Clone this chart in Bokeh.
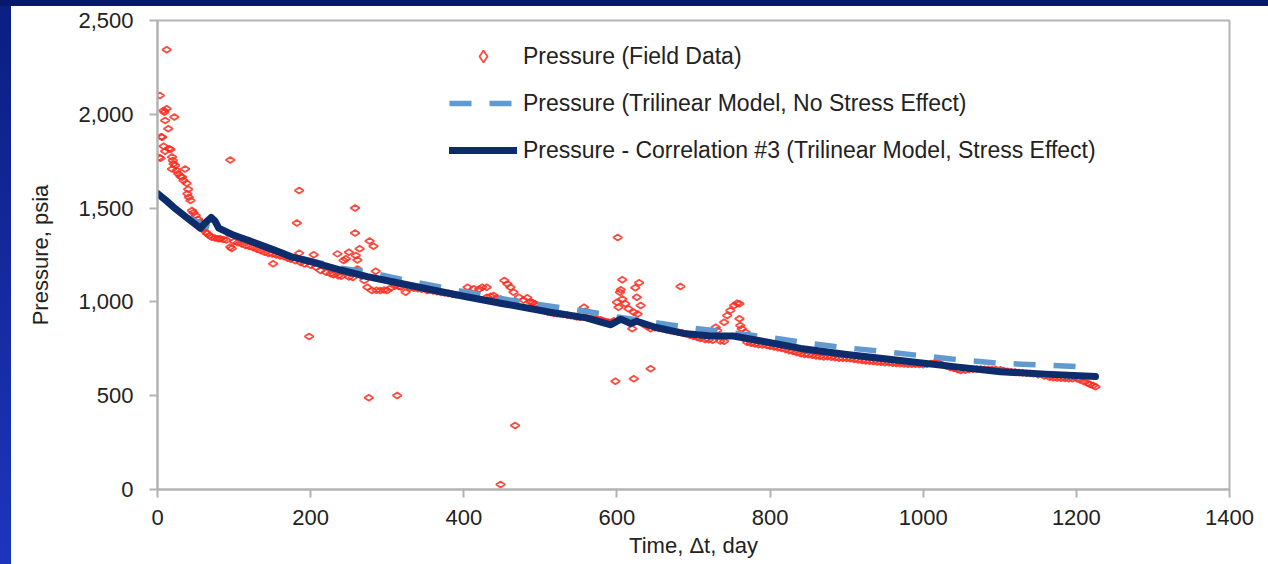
import math
from bokeh.plotting import figure
from bokeh.models import Range1d, FixedTicker, NumeralTickFormatter, Legend, LegendItem, Spacer
from bokeh.layouts import column, row
from bokeh.embed import file_html
from bokeh.resources import INLINE

# ---- data ----
field_day = [2, 3, 4, 5, 6, 8, 8, 9, 10, 10, 12, 12, 14, 15, 17, 19, 19, 20, 22, 21, 23, 25, 27, 30, 32, 34, 36, 38, 39, 40,
             41, 43, 45, 47, 50, 53, 56, 58, 60, 63, 65, 68, 71, 75, 79, 82, 86, 90, 95, 95, 97, 100, 105, 110, 115, 119, 120,
             125, 130, 135, 140, 145, 151, 150, 155, 160, 165, 170, 174, 180, 182, 185, 185, 187, 192, 198, 200, 204, 207,
             213, 220, 226, 230, 235, 236, 240, 243, 246, 250, 250, 255, 258, 258, 259, 261, 261, 264, 266, 270, 274, 276,
             277, 280, 282, 285, 286, 291, 296, 300, 305, 310, 313, 318, 324, 330, 340, 352, 360, 370, 380, 390, 398, 405,
             413, 420, 424, 430, 430, 439, 443, 448, 448, 453, 457, 461, 465, 467, 472, 478, 483, 490, 496, 503, 510, 518,
             526, 535, 545, 552, 557, 559, 565, 572, 579, 585, 590, 596, 598, 600, 601, 602, 604, 605, 607, 607, 611, 615,
             620, 622, 622, 624, 626, 627, 629, 631, 635, 644, 644, 650, 660, 670, 683, 680, 690, 700, 709, 715, 729, 731,
             740, 740, 744, 748, 753, 757, 760, 760, 761, 763, 768, 775, 785, 796, 805, 815, 825, 840, 850, 860, 870, 880,
             890, 905, 915, 925, 940, 955, 970, 985, 1000, 1010, 1018, 1025, 1035, 1049, 1060, 1075, 1090, 1101, 1115, 1130,
             1144, 1158, 1170, 1185, 1201, 1210, 1218, 1225,
             315, 335, 345, 355, 365, 375, 385, 395, 435, 487, 493, 500, 506, 514, 522, 530, 540, 548, 562, 568, 575, 582,
             588, 593, 640, 655, 665, 675, 685, 695, 705, 720, 725, 735, 770, 780, 790, 800, 810, 820, 830, 835, 845, 855,
             865, 875, 885, 895, 900, 910, 920, 930, 935, 945, 950, 960, 965, 975, 980, 990, 995, 1005, 1015, 1020, 1030,
             1040, 1045, 1055, 1065, 1070, 1080, 1085, 1095, 1105, 1110, 1120, 1125, 1135, 1140, 1150, 1165, 1175, 1180,
             1190, 1195, 1205, 1215, 1222]
field_psia = [1770, 2100, 1766, 1880, 1878, 2020, 1830, 2011, 1967, 1803, 2344, 2029, 1923, 1816, 1812, 1772, 1709, 1754, 1985,
              1736, 1727, 1700, 1683, 1670, 1665, 1647, 1709, 1633, 1576, 1600, 1558, 1540, 1487, 1475, 1461, 1440, 1425,
              1405, 1390, 1372, 1363, 1352, 1345, 1340, 1337, 1336, 1333, 1330, 1292, 1757, 1285, 1322, 1315, 1308, 1300,
              1327, 1295, 1288, 1280, 1272, 1265, 1258, 1203, 1255, 1250, 1245, 1240, 1233, 1228, 1220, 1421, 1594, 1260,
              1210, 1202, 815, 1195, 1251, 1185, 1168, 1158, 1150, 1145, 1256, 1140, 1137, 1221, 1230, 1265, 1133, 1130,
              1500, 1367, 1247, 1224, 1176, 1283, 1140, 1114, 1078, 489, 1324, 1061, 1297, 1164, 1062, 1061, 1063, 1061,
              1075, 1085, 501, 1080, 1052, 1076, 1070, 1061, 1058, 1050, 1045, 1038, 1040, 1078, 1070, 1068, 1078, 1078,
              1025, 1034, 1020, 27, 1016, 1114, 1096, 1078, 1052, 341, 1025, 1010, 1022, 995, 981, 960, 945, 938, 936, 930,
              922, 918, 972, 950, 912, 910, 905, 896, 890, 900, 577, 998, 1343, 972, 1052, 1065, 1118, 1016, 990, 963, 857,
              945, 590, 1075, 1025, 936, 1102, 981, 880, 857, 643, 862, 855, 846, 1082, 838, 830, 815, 805, 800, 865, 848,
              892, 790, 927, 954, 981, 993, 990, 910, 874, 857, 838, 780, 772, 768, 760, 752, 740, 723, 718, 712, 706, 705,
              700, 697, 690, 685, 680, 675, 670, 668, 665, 672, 679, 665, 650, 634, 640, 642, 640, 638, 628, 622, 617, 605,
              596, 592, 590, 575, 560, 548,
              1082, 1073, 1068, 1062, 1054, 1048, 1041, 1036, 1030, 1000, 990, 970, 952, 942, 937, 933, 926, 920, 914, 911,
              908, 900, 893, 892, 868, 858, 850, 842, 835, 822, 810, 798, 795, 792, 785, 776, 770, 764, 756, 746, 735, 729,
              720, 715, 709, 707, 702, 699, 698, 693, 687, 683, 682, 678, 676, 673, 671, 669, 668, 667, 666, 668, 676, 675,
              658, 645, 638, 636, 641, 642, 641, 641, 639, 635, 631, 626, 624, 620, 618, 612, 599, 594, 593, 591, 590, 584,
              566, 555]

nostress_day = [0, 30, 60, 90, 130, 180, 240, 280, 330, 400, 460, 500, 560, 600, 650, 700, 750, 800, 850, 900, 950, 1000,
                1050, 1100, 1150, 1200]
nostress_psia = [1575, 1470, 1410, 1365, 1310, 1240, 1180, 1155, 1110, 1055, 1010, 985, 950, 920, 890, 860, 835, 810, 780,
                 755, 735, 712, 690, 673, 665, 655]

stress_day = [0, 10, 21, 43, 56, 62, 70, 75, 80, 100, 121, 150, 175, 200, 239, 274, 310, 361, 400, 448, 513, 560, 585, 592,
              605, 618, 626, 650, 687, 720, 752, 790, 840, 900, 970, 1040, 1101, 1160, 1225]
stress_psia = [1578, 1545, 1505, 1434, 1392, 1420, 1450, 1432, 1393, 1355, 1325, 1280, 1240, 1215, 1170, 1135, 1105, 1062,
               1030, 993, 945, 915, 885, 878, 908, 885, 897, 865, 832, 820, 818, 790, 752, 720, 688, 655, 628, 615, 602]

x_ticks = [0, 200, 400, 600, 800, 1000, 1200, 1400]
y_ticks = [0, 500, 1000, 1500, 2000, 2500]

FONT = "Liberation Sans"
AXIS_GRAY = "#b3b3b3"
TEXT = "#222222"

p = figure(width=1257, height=558, output_backend="svg", toolbar_location=None,
           x_range=Range1d(0, 1400), y_range=Range1d(0, 2500),
           min_border_left=146, min_border_right=39, min_border_top=14, min_border_bottom=75)

p.background_fill_color = "white"
p.border_fill_color = "white"
p.outline_line_color = AXIS_GRAY
p.outline_line_width = 2
p.xgrid.visible = False
p.ygrid.visible = False

for ax in (p.xaxis[0], p.yaxis[0]):
    ax.axis_line_color = AXIS_GRAY
    ax.axis_line_width = 2
    ax.major_tick_line_color = AXIS_GRAY
    ax.major_tick_line_width = 2
    ax.major_tick_in = 0
    ax.major_tick_out = 8
    ax.minor_tick_line_color = None
    ax.major_label_text_font = FONT
    ax.major_label_text_font_size = "22px"
    ax.major_label_text_color = TEXT
    ax.axis_label_text_font = FONT
    ax.axis_label_text_font_size = "22px"
    ax.axis_label_text_font_style = "normal"
    ax.axis_label_text_color = TEXT

p.xaxis.ticker = FixedTicker(ticks=x_ticks)
p.yaxis.ticker = FixedTicker(ticks=y_ticks)
p.yaxis.formatter = NumeralTickFormatter(format="0,0")
p.xaxis.axis_label = "Time, \u0394t, day"
p.yaxis.axis_label = "Pressure, psia"
p.xaxis.major_label_standoff = 12
p.xaxis.axis_label_standoff = 5
p.yaxis.major_label_standoff = 16
p.yaxis.axis_label_standoff = 22

r_field = p.scatter(field_day, field_psia, marker="diamond", size=9, angle=math.pi / 2, fill_alpha=0,
                    line_color="#ff2b1f", line_alpha=0.85, line_width=1.8)
r_nostress = p.line(nostress_day, nostress_psia, line_color="#6199d1", line_width=5.5,
                    line_dash="22 18", line_join="round")
r_stress = p.line(stress_day, stress_psia, line_color="#0c2c6c", line_width=7,
                  line_join="round", line_cap="round")

legend = Legend(items=[
    LegendItem(label="Pressure (Field Data)", renderers=[r_field]),
    LegendItem(label="Pressure (Trilinear Model, No Stress Effect)", renderers=[r_nostress]),
    LegendItem(label="Pressure - Correlation #3 (Trilinear Model, Stress Effect)", renderers=[r_stress]),
], location=(292, 324))
legend.border_line_color = None
legend.background_fill_alpha = 0
legend.padding = 0
legend.margin = 0
legend.spacing = 17
legend.glyph_width = 68
legend.glyph_height = 30
legend.label_height = 30
legend.label_standoff = 6
legend.label_text_font = FONT
legend.label_text_font_size = "23px"
legend.label_text_color = TEXT
p.add_layout(legend, "center")

top_band = Spacer(width=1268, height=6, styles={"background": "#07196e"})
left_band = Spacer(width=11, height=558, styles={"background": "linear-gradient(#0a1f82, #1d35bc)"})
layout = column(top_band, row(left_band, p, spacing=0), spacing=0)

open("out.html", "w").write(file_html(layout, INLINE))
